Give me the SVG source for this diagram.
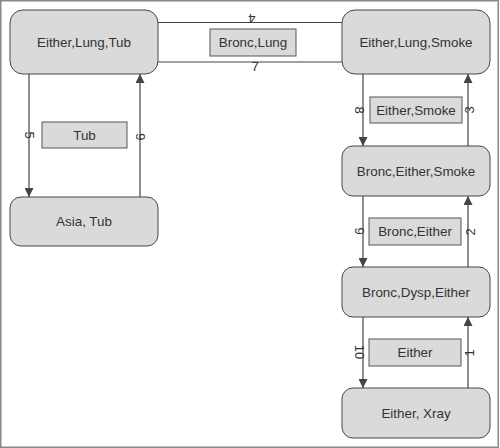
<svg xmlns="http://www.w3.org/2000/svg" width="500" height="448" viewBox="0 0 500 448">
  <style>
    .node rect { fill: #dadada; stroke: #474747; stroke-width: 1; }
    .node text { font-family: "Liberation Sans", Arial, sans-serif; font-size: 13.4px; fill: #333; text-anchor: middle; dominant-baseline: central; }
    .sep rect { fill: #dadada; stroke: #555; stroke-width: 1; }
    .sep text { font-family: "Liberation Sans", Arial, sans-serif; font-size: 13.4px; fill: #333; text-anchor: middle; dominant-baseline: central; }
    .edge { stroke: #444; stroke-width: 1.2; fill: none; }
    .num { font-family: "Liberation Sans", Arial, sans-serif; font-size: 13px; fill: #333; text-anchor: middle; }
  </style>
  <defs>
    <marker id="arr" viewBox="0 0 10 10" refX="10" refY="5" markerWidth="9" markerHeight="9" markerUnits="userSpaceOnUse" orient="auto">
      <path d="M0,0 L10,5 L0,10 z" fill="#444"/>
    </marker>
  </defs>
  <rect x="0.75" y="0.75" width="497.5" height="446.5" fill="#fff" stroke="#888" stroke-width="1.5"/>

  <g id="connectors">
    <line class="edge" x1="158" y1="22.5" x2="342" y2="22.5"/>
    <line class="edge" x1="158" y1="62" x2="342" y2="62"/>
    <line class="edge" x1="29" y1="74" x2="29" y2="197" marker-end="url(#arr)"/>
    <line class="edge" x1="140" y1="197" x2="140" y2="74" marker-end="url(#arr)"/>
    <line class="edge" x1="363" y1="74" x2="363" y2="146" marker-end="url(#arr)"/>
    <line class="edge" x1="468" y1="146" x2="468" y2="74" marker-end="url(#arr)"/>
    <line class="edge" x1="363" y1="196" x2="363" y2="267" marker-end="url(#arr)"/>
    <line class="edge" x1="468" y1="267" x2="468" y2="196" marker-end="url(#arr)"/>
    <line class="edge" x1="363" y1="317" x2="363" y2="388" marker-end="url(#arr)"/>
    <line class="edge" x1="468" y1="388" x2="468" y2="317" marker-end="url(#arr)"/>

    <text class="num" transform="translate(252,14) rotate(180)">4</text>
    <text class="num" x="255" y="71">7</text>
    <text class="num" transform="translate(25,135) rotate(90)">5</text>
    <text class="num" transform="translate(145,137) rotate(-90)">6</text>
    <text class="num" transform="translate(355,110) rotate(90)">8</text>
    <text class="num" transform="translate(474,110) rotate(-90)">3</text>
    <text class="num" transform="translate(355,231) rotate(90)">9</text>
    <text class="num" transform="translate(475,232) rotate(-90)">2</text>
    <text class="num" transform="translate(355,352) rotate(90)">10</text>
    <text class="num" transform="translate(474,353) rotate(-90)">1</text>
  </g>

  <g id="sep-bronc-lung" class="sep"><rect x="210" y="29" width="86" height="27"/><text x="253" y="42.5">Bronc,Lung</text></g>
  <g id="sep-tub" class="sep"><rect x="42" y="122" width="85" height="26"/><text x="84.5" y="135">Tub</text></g>
  <g id="sep-either-smoke" class="sep"><rect x="370" y="97" width="92" height="26"/><text x="416" y="110">Either,Smoke</text></g>
  <g id="sep-bronc-either" class="sep"><rect x="369" y="218" width="92" height="27"/><text x="415" y="231.5">Bronc,Either</text></g>
  <g id="sep-either" class="sep"><rect x="369" y="339" width="92" height="27"/><text x="415" y="352.5">Either</text></g>

  <g id="n-either-lung-tub" class="node"><rect x="10" y="10" width="148" height="64" rx="13"/><text x="84" y="42">Either,Lung,Tub</text></g>
  <g id="n-either-lung-smoke" class="node"><rect x="342" y="10" width="148" height="64" rx="13"/><text x="416" y="42">Either,Lung,Smoke</text></g>
  <g id="n-asia-tub" class="node"><rect x="10" y="197" width="148" height="49" rx="11"/><text x="84" y="221.5">Asia, Tub</text></g>
  <g id="n-bronc-either-smoke" class="node"><rect x="342" y="146" width="148" height="50" rx="11"/><text x="416" y="171">Bronc,Either,Smoke</text></g>
  <g id="n-bronc-dysp-either" class="node"><rect x="342" y="267" width="148" height="50" rx="11"/><text x="416" y="292">Bronc,Dysp,Either</text></g>
  <g id="n-either-xray" class="node"><rect x="342" y="388" width="148" height="50" rx="11"/><text x="416" y="413">Either, Xray</text></g>
</svg>
